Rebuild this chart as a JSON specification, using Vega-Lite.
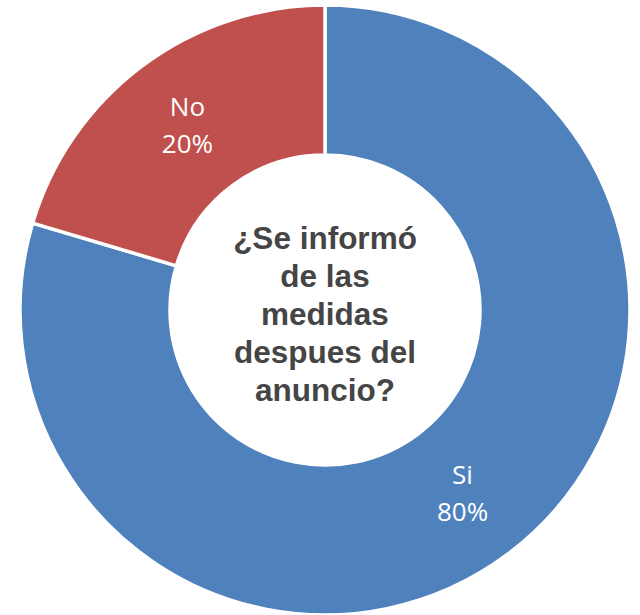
{
  "$schema": "https://vega.github.io/schema/vega-lite/v6.json",
  "autosize": {"type": "fit", "contains": "padding"},
  "width": 640,
  "height": 615,
  "padding": {"left": 10, "top": 5, "right": 0, "bottom": 0},
  "background": "white",
  "view": {"stroke": null},
  "layer": [
    {
      "data": {"values": [
        {"category": "Si", "value": 79.6, "idx": 1, "label": "Si\n80%"},
        {"category": "No", "value": 20.4, "idx": 2, "label": "No\n20%"}
      ]},
      "encoding": {
        "theta": {"field": "value", "type": "quantitative", "stack": true},
        "order": {"field": "idx", "type": "quantitative"}
      },
      "layer": [
        {
          "mark": {"type": "arc", "outerRadius": 305, "innerRadius": 155, "stroke": "white", "strokeWidth": 3.5},
          "encoding": {
            "color": {"field": "category", "type": "nominal",
              "scale": {"domain": ["Si", "No"], "range": ["#4F81BD", "#C0504D"]},
              "legend": null}
          }
        },
        {
          "mark": {"type": "text", "radius": 230, "font": "Open Sans", "fontSize": 26, "color": "white", "lineBreak": "\n", "lineHeight": 37, "align": "center", "baseline": "middle", "dy": -18},
          "encoding": {"text": {"field": "label", "type": "nominal"}}
        }
      ]
    },
    {
      "data": {"values": [{"t": "¿Se informó\nde las\nmedidas\ndespues del\nanuncio?"}]},
      "mark": {"type": "text", "font": "Liberation Sans", "fontWeight": "bold", "fontSize": 31.5, "color": "#454545", "lineBreak": "\n", "lineHeight": 38, "align": "center", "baseline": "middle", "dy": -70},
      "encoding": {"text": {"field": "t", "type": "nominal"}}
    }
  ]
}
